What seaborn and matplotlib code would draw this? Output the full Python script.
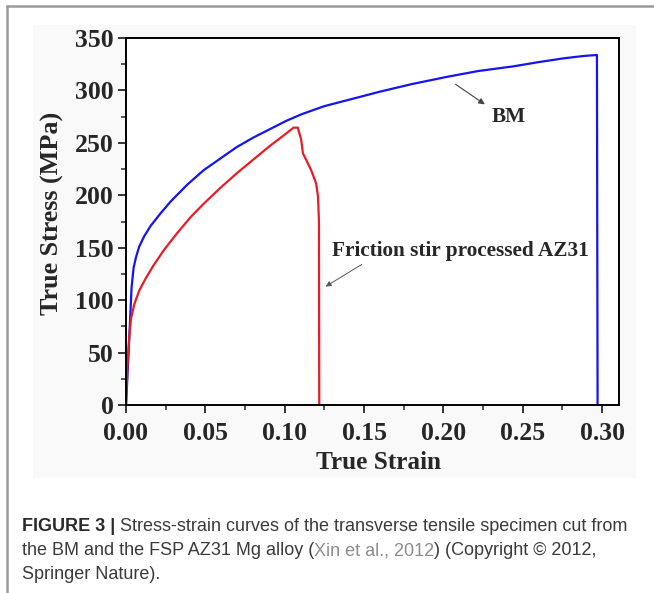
import numpy as np
import pandas as pd
import matplotlib
matplotlib.use("Agg")
import matplotlib.pyplot as plt
from matplotlib.ticker import MultipleLocator, FormatStrFormatter
from matplotlib.lines import Line2D
from matplotlib.patches import Rectangle
import seaborn as sns

# ---- data ----
bm_strain = [0.0, 0.001, 0.002, 0.003, 0.0035, 0.0048, 0.0063, 0.0083, 0.0115, 0.0156,
             0.0219, 0.0281, 0.0385, 0.049, 0.0594, 0.0698, 0.0802, 0.0906, 0.101,
             0.111, 0.125, 0.1415, 0.160, 0.180, 0.2024, 0.222, 0.2443, 0.260,
             0.2758, 0.288, 0.2968, 0.2972]
bm_stress = [0, 30, 62, 95, 112, 131, 141, 151, 161, 171,
             183, 194, 210, 224, 235, 246, 255, 263, 271,
             277.5, 285, 291.5, 298.8, 306, 313, 318.5, 323, 327,
             330.6, 332.8, 333.8, 0]

fsp_strain = [0.0, 0.001, 0.0021, 0.0031, 0.0052, 0.0083, 0.0125, 0.0177, 0.024,
              0.0323, 0.0406, 0.049, 0.0594, 0.0698, 0.0802, 0.0906, 0.101, 0.1056,
              0.1083, 0.1104, 0.1115, 0.1135, 0.1167, 0.1198, 0.121, 0.1216, 0.1218]
fsp_stress = [0, 40, 66, 82, 96, 109, 121, 134, 148,
              164, 179, 192, 207, 221, 234, 247, 259, 264.5,
              264.5, 253, 240, 234, 224, 211.5, 198.7, 176, 0]

x_ticks = [0.00, 0.05, 0.10, 0.15, 0.20, 0.25, 0.30]
y_ticks = [0, 50, 100, 150, 200, 250, 300, 350]

series_names = ["BM", "Friction stir processed AZ31"]

df = pd.concat([
    pd.DataFrame({"strain": bm_strain, "stress": bm_stress, "series": series_names[0]}),
    pd.DataFrame({"strain": fsp_strain, "stress": fsp_stress, "series": series_names[1]}),
], ignore_index=True)

sns.set_style("ticks")
plt.rcParams["font.family"] = ["Liberation Serif", "DejaVu Serif"]

W, H = 654, 593
fig = plt.figure(figsize=(W / 100, H / 100), dpi=100)

# faint grey backdrop of the embedded image and the frame border
fig.patches.append(Rectangle((33 / W, 1 - 478 / H), (636 - 33) / W, (478 - 25) / H,
                             transform=fig.transFigure, facecolor="#f9f9f9",
                             edgecolor="none", zorder=-5))
fig.lines.append(Line2D([7 / W, 7 / W], [0, 1 - 6 / H], transform=fig.transFigure,
                        color="#9a9a9a", lw=1.8))
fig.lines.append(Line2D([7 / W, 1], [1 - 6 / H, 1 - 6 / H], transform=fig.transFigure,
                        color="#9a9a9a", lw=1.8))

ax = fig.add_axes([126 / W, 1 - 405 / H, (619 - 126) / W, (405 - 38) / H])
ax.set_facecolor("white")

sns.lineplot(data=df, x="strain", y="stress", hue="series",
             palette={series_names[0]: "#1414f0", series_names[1]: "#e81c24"},
             sort=False, estimator=None, lw=1.6, legend=False, ax=ax)

ax.set_xlim(0, 0.3107)
ax.set_ylim(0, 350)
ax.set_xticks(x_ticks)
ax.set_yticks(y_ticks)
ax.xaxis.set_major_formatter(FormatStrFormatter("%.2f"))
ax.xaxis.set_minor_locator(MultipleLocator(0.025))
ax.yaxis.set_minor_locator(MultipleLocator(25))
ax.tick_params(which="major", direction="out", length=6, width=1.3,
               labelsize=18.5, pad=3)
ax.tick_params(axis="x", which="major", pad=6)
ax.tick_params(which="minor", direction="out", length=3.5, width=1.1)
for lbl in ax.get_xticklabels() + ax.get_yticklabels():
    lbl.set_fontweight("bold")
for s in ax.spines.values():
    s.set_linewidth(1.4)
    s.set_color("black")

ax.set_xlabel("True Strain", fontsize=18.2, fontweight="bold")
ax.set_ylabel("True Stress (MPa)", fontsize=18.8, fontweight="bold")
ax.xaxis.set_label_coords(0.512, -0.126)
ax.yaxis.set_label_coords(-0.125, 0.523)

# annotations
ax.annotate("", xy=(0.2276, 285.2), xytext=(0.2062, 307.4),
            arrowprops=dict(arrowstyle="-|>", color="#444444", lw=0.8,
                            mutation_scale=9))
ax.text(0.241, 275, series_names[0], fontsize=15.3, fontweight="bold",
        ha="center", va="center")
ax.annotate("", xy=(0.1243, 111.6), xytext=(0.150, 135.4),
            arrowprops=dict(arrowstyle="-|>", color="#555555", lw=0.7,
                            mutation_scale=8))
ax.text(0.211, 147, series_names[1], fontsize=15.3, fontweight="bold",
        ha="center", va="center")

# caption
cap_color = "#3a3a3a"
cap_font = ["Liberation Sans", "DejaVu Sans"]
cap_size = 13.0
fig.canvas.draw()
renderer = fig.canvas.get_renderer()


def put(parts, x_px, y_px):
    x = x_px
    for txt, weight, color in parts:
        t = fig.text(x / W, 1 - y_px / H, txt, fontsize=cap_size, fontweight=weight,
                     color=color, family=cap_font, va="baseline", ha="left")
        bb = t.get_window_extent(renderer=renderer)
        x += bb.width


put([("FIGURE 3 |", "bold", "#2a2a2a"),
     (" Stress-strain curves of the transverse tensile specimen cut from", "normal", cap_color)],
    22, 531)
put([("the BM and the FSP AZ31 Mg alloy (", "normal", cap_color),
     ("Xin et al., 2012", "normal", "#8c8c8c"),
     (") (Copyright \u00a9 2012,", "normal", cap_color)],
    22, 555)
put([("Springer Nature).", "normal", cap_color)], 22, 579)

fig.savefig("out.png", dpi=100)
